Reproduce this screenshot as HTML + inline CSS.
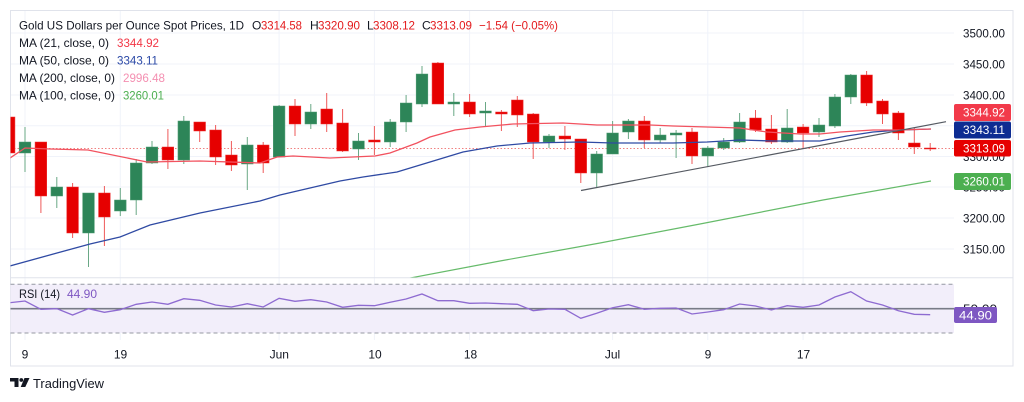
<!DOCTYPE html>
<html><head><meta charset="utf-8"><style>
html,body{margin:0;padding:0;background:#fff;}
svg{display:block;}
text{font-family:"Liberation Sans",sans-serif;}
</style></head><body>
<svg width="1024" height="402" viewBox="0 0 1024 402" xmlns="http://www.w3.org/2000/svg">
<defs>
<clipPath id="mp"><rect x="10.5" y="10.5" width="943.5" height="267"/></clipPath>
<clipPath id="rp"><rect x="10.5" y="278" width="943.5" height="62"/></clipPath>
</defs>
<rect x="0" y="0" width="1024" height="402" fill="#fff"/>
<!-- grid -->
<g stroke="#f0f3fa" stroke-width="1">
<path d="M10.5 33H954M10.5 64H954M10.5 95H954M10.5 125.7H954M10.5 156.5H954M10.5 187H954M10.5 218H954M10.5 249H954"/>
<path d="M25 10.5V340M120.3 10.5V340M279.1 10.5V340M374.4 10.5V340M469.6 10.5V340M612.6 10.5V340M707.8 10.5V340M803.1 10.5V340"/>
</g>
<!-- frame -->
<rect x="10.5" y="10.5" width="1002.5" height="355.5" fill="none" stroke="#e0e3eb" stroke-width="1"/>
<line x1="10.5" y1="277.8" x2="1013" y2="277.8" stroke="#e0e3eb" stroke-width="1"/>

<g clip-path="url(#mp)">
<!-- current price dotted -->
<line x1="10.5" y1="148.5" x2="954" y2="148.5" stroke="#f08080" stroke-width="1" stroke-dasharray="1.5 2"/>
<!-- wicks green -->
<path stroke="#6aa886" stroke-width="1" fill="none" d="M25 127V172M56.8 177V208M88.5 193V267M120.3 188V216M136.2 159V215M152 141V164M183.8 116V164M247.3 137V190M279.1 105V157M310.8 104V129M358.5 133V160M390.2 119V147M406.1 95V132M422 66V107M453.8 93V116M485.5 102V127M549 134V148M596.7 151V188M612.6 121V154M628.4 119V139M660.2 128V143M676.1 130V158M707.8 146V167M723.7 138V150M739.6 113V143M787.2 109V143M819 118V137M834.9 94V128M850.8 74V104"/>
<!-- wicks red -->
<path stroke="#ee5a5a" stroke-width="1" fill="none" d="M9.1 117V153M40.9 142V213M72.6 183V238M104.4 186V246M167.9 129V169M199.7 122V142M215.6 125V165M231.4 141V171M263.2 142V173M295 99V136M326.7 93V132M342.6 109V152M374.4 126V155M437.9 62V104M469.6 94V117M501.4 110V131M517.3 96V127M533.2 113V159M564.9 126V150M580.8 139V183M644.3 116V148M692 128V164M755.5 110V132M771.4 115V144M803.1 124V149M866.6 71V106M882.5 99V124M898.4 111V140M914.3 128V154M930.2 143V151"/>
<!-- bodies green -->
<path fill="#2d8558" stroke="#4f9c73" stroke-width="0.6" d="
M19.2 142h11.6V153h-11.6z
M51 187h11.6V196h-11.6z
M82.7 193h11.6V233h-11.6z
M114.5 200h11.6V211h-11.6z
M130.4 163h11.6V200h-11.6z
M146.2 147h11.6V163h-11.6z
M178 121h11.6V160h-11.6z
M241.5 145h11.6V164h-11.6z
M273.3 106h11.6V157h-11.6z
M305 112h11.6V124h-11.6z
M352.7 141h11.6V149h-11.6z
M384.4 122h11.6V142h-11.6z
M400.3 103h11.6V122h-11.6z
M416.2 74h11.6V104h-11.6z
M448 102h11.6V104h-11.6z
M479.7 111h11.6V113h-11.6z
M543.2 136h11.6V142h-11.6z
M590.9 154h11.6V173h-11.6z
M606.8 133h11.6V154h-11.6z
M622.6 121h11.6V132h-11.6z
M654.4 135h11.6V140h-11.6z
M670.3 133h11.6V135h-11.6z
M702 148h11.6V156h-11.6z
M717.9 142h11.6V148h-11.6z
M733.8 122h11.6V142h-11.6z
M781.4 128h11.6V142h-11.6z
M813.2 125h11.6V132h-11.6z
M829.1 97h11.6V126h-11.6z
M845 75h11.6V97h-11.6z"/>
<!-- bodies red -->
<path fill="#e60000" stroke="#ee3030" stroke-width="0.6" d="
M3.3 117h11.6V153h-11.6z
M35.1 142h11.6V196h-11.6z
M66.8 187h11.6V233h-11.6z
M98.6 193h11.6V217h-11.6z
M162.1 147h11.6V160h-11.6z
M193.9 122h11.6V131h-11.6z
M209.8 130h11.6V157h-11.6z
M225.6 155h11.6V165h-11.6z
M257.4 145h11.6V163h-11.6z
M289.2 106h11.6V124h-11.6z
M320.9 109h11.6V124h-11.6z
M336.8 123h11.6V151h-11.6z
M368.6 140h11.6V142h-11.6z
M432.1 63h11.6V104h-11.6z
M463.8 102h11.6V114h-11.6z
M495.6 112h11.6V114h-11.6z
M511.5 100h11.6V115h-11.6z
M527.4 114h11.6V142h-11.6z
M559.1 136h11.6V139h-11.6z
M575 139h11.6V173h-11.6z
M638.5 121h11.6V140h-11.6z
M686.2 132h11.6V156h-11.6z
M749.7 118h11.6V130h-11.6z
M765.6 129h11.6V142h-11.6z
M797.3 127h11.6V133h-11.6z
M860.8 75h11.6V103h-11.6z
M876.7 101h11.6V114h-11.6z
M892.6 113h11.6V133h-11.6z
M908.5 143h11.6V147h-11.6z
M924.4 148h11.6V149h-11.6z"/>
<!-- MA lines -->
<polyline fill="none" stroke="#66bb6a" stroke-width="1.2" points="405,279 500,261 600,243 700,224 823,200 931,181"/>
<polyline fill="none" stroke="#2f4aa3" stroke-width="1.3" points="10,266 57,253 90,244 120,237 150,225 200,213 260,201 280,195 340,181 363,177 397,172 430,162 463,152 497,146 530,143 580,142 613,143 650,143 673,143 707,142 740,140 773,141 820,141 847,136 873,132 900,130 931,129"/>
<polyline fill="none" stroke="#f2525f" stroke-width="1.3" points="10,158 25,148 50,149 88,150 147,162 200,161 260,163 277,157 293,156 330,158 375,156 390,153 417,143 430,137 455,130 480,127 513,124 563,123 597,125 650,125 673,126 707,127 740,128 767,132 800,134 820,134 840,132 873,130 900,130 931,129"/>
<line x1="581" y1="190.5" x2="946" y2="121.7" stroke="#555a62" stroke-width="1.2"/>
</g>

<!-- RSI pane -->
<rect x="10.5" y="284.3" width="943.5" height="48.7" fill="#f2eefa"/>
<line x1="10.5" y1="284.3" x2="954" y2="284.3" stroke="#9598a1" stroke-width="1" stroke-dasharray="4 3"/>
<line x1="10.5" y1="333" x2="954" y2="333" stroke="#9598a1" stroke-width="1" stroke-dasharray="4 3"/>
<line x1="10.5" y1="308.7" x2="954" y2="308.7" stroke="#787b86" stroke-width="1.6"/>
<g clip-path="url(#rp)">
<polyline fill="none" stroke="#8e6bd1" stroke-width="1.3" points="10,302.7 25,301 40.9,309.3 56.8,308.7 72.6,315 88.5,308.7 104.4,312.3 120.3,309.7 136.2,304.3 152,302 167.9,304.3 183.8,298.7 199.7,300.3 215.6,305 231.4,307 247.3,303.7 263.2,307 279.1,298.3 295,301.3 310.8,299.7 326.7,302 342.6,307.3 358.5,305.3 374.4,305.7 390.2,302.3 406.1,299 422,294 437.9,300.7 453.8,300.7 469.6,303.3 485.5,303 501.4,303.7 517.3,304.3 533.2,310.7 549,309 564.9,309.3 580.8,318.3 596.7,313.3 612.6,307.7 628.4,304.7 644.3,309.3 660.2,308.3 676.1,308 692,314 707.8,312 723.7,309.7 739.6,304 755.5,306 771.4,310 787.2,305.7 803.1,307.3 819,305 834.9,297 850.8,291.7 866.6,301 882.5,305 898.4,310.7 914.3,314.3 930.2,314.7"/>
</g>
<text x="19" y="298" font-size="12" fill="#131722" textLength="41" lengthAdjust="spacingAndGlyphs">RSI (14)</text>
<text x="67" y="298" font-size="12" fill="#7e57c2" textLength="30" lengthAdjust="spacingAndGlyphs">44.90</text>

<!-- price axis labels -->
<g font-size="12" fill="#131722">
<text x="963" y="37.3" textLength="42" lengthAdjust="spacingAndGlyphs">3500.00</text>
<text x="963" y="68.3" textLength="42" lengthAdjust="spacingAndGlyphs">3450.00</text>
<text x="963" y="99.3" textLength="42" lengthAdjust="spacingAndGlyphs">3400.00</text>
<text x="963" y="160.8" textLength="42" lengthAdjust="spacingAndGlyphs">3300.00</text>
<text x="963" y="191.3" textLength="42" lengthAdjust="spacingAndGlyphs">3250.00</text>
<text x="963" y="222.3" textLength="42" lengthAdjust="spacingAndGlyphs">3200.00</text>
<text x="963" y="253.3" textLength="42" lengthAdjust="spacingAndGlyphs">3150.00</text>
<text x="963" y="313" textLength="34" lengthAdjust="spacingAndGlyphs">50.00</text>
</g>
<rect x="954" y="104" width="57" height="17" rx="2" fill="#f23a4a"/>
<rect x="954" y="121.5" width="57" height="17" rx="2" fill="#0d2c92"/>
<rect x="954" y="140" width="57" height="16.5" rx="2" fill="#e60000"/>
<rect x="954" y="173" width="57" height="17" rx="2" fill="#4caf50"/>
<rect x="954" y="307" width="43" height="16" rx="2" fill="#7e57c2"/>
<g font-size="12" fill="#fff">
<text x="963" y="116.7" textLength="42" lengthAdjust="spacingAndGlyphs">3344.92</text>
<text x="963" y="134.2" textLength="42" lengthAdjust="spacingAndGlyphs">3343.11</text>
<text x="963" y="152.5" textLength="42" lengthAdjust="spacingAndGlyphs">3313.09</text>
<text x="963" y="185.7" textLength="42" lengthAdjust="spacingAndGlyphs">3260.01</text>
<text x="959" y="319.5" textLength="33" lengthAdjust="spacingAndGlyphs">44.90</text>
</g>

<!-- time axis -->
<g font-size="12" fill="#131722" text-anchor="middle">
<text x="25" y="358.5">9</text>
<text x="120.5" y="358.5">19</text>
<text x="279.3" y="358.5">Jun</text>
<text x="375" y="358.5">10</text>
<text x="470.5" y="358.5">18</text>
<text x="612.5" y="358.5">Jul</text>
<text x="708" y="358.5">9</text>
<text x="803.5" y="358.5">17</text>
</g>

<!-- legend -->
<g font-size="12">
<text x="19" y="29.5" fill="#131722" textLength="225" lengthAdjust="spacingAndGlyphs">Gold US Dollars per Ounce Spot Prices, 1D</text>
<text x="252" y="29.5" fill="#131722">O</text>
<text x="261" y="29.5" fill="#e31a1c" textLength="41" lengthAdjust="spacingAndGlyphs">3314.58</text>
<text x="310" y="29.5" fill="#131722">H</text>
<text x="318" y="29.5" fill="#e31a1c" textLength="42" lengthAdjust="spacingAndGlyphs">3320.90</text>
<text x="367" y="29.5" fill="#131722">L</text>
<text x="373" y="29.5" fill="#e31a1c" textLength="42" lengthAdjust="spacingAndGlyphs">3308.12</text>
<text x="422" y="29.5" fill="#131722">C</text>
<text x="430" y="29.5" fill="#e31a1c" textLength="42" lengthAdjust="spacingAndGlyphs">3313.09</text>
<text x="479" y="29.5" fill="#e31a1c" textLength="79" lengthAdjust="spacingAndGlyphs">−1.54 (−0.05%)</text>
<text x="19" y="47" fill="#131722" textLength="90" lengthAdjust="spacingAndGlyphs">MA (21, close, 0)</text>
<text x="117" y="47" fill="#f23645" textLength="42" lengthAdjust="spacingAndGlyphs">3344.92</text>
<text x="19" y="64.5" fill="#131722" textLength="90" lengthAdjust="spacingAndGlyphs">MA (50, close, 0)</text>
<text x="117" y="64.5" fill="#2a48a6" textLength="41" lengthAdjust="spacingAndGlyphs">3343.11</text>
<text x="19" y="82" fill="#131722" textLength="96" lengthAdjust="spacingAndGlyphs">MA (200, close, 0)</text>
<text x="123" y="82" fill="#f48fb1" textLength="42" lengthAdjust="spacingAndGlyphs">2996.48</text>
<text x="19" y="99.5" fill="#131722" textLength="96" lengthAdjust="spacingAndGlyphs">MA (100, close, 0)</text>
<text x="123" y="99.5" fill="#4caf50" textLength="41" lengthAdjust="spacingAndGlyphs">3260.01</text>
</g>

<!-- logo -->
<g fill="#131722">
<path d="M10 378h8.5v9h-4v-5.5h-4.5z"/>
<circle cx="21.3" cy="380" r="1.9"/>
<path d="M24.5 378h5l-4.2 9h-4.6z"/>
</g>
<text x="33" y="388" font-size="13" fill="#131722" textLength="71" lengthAdjust="spacingAndGlyphs">TradingView</text>
</svg>
</body></html>
